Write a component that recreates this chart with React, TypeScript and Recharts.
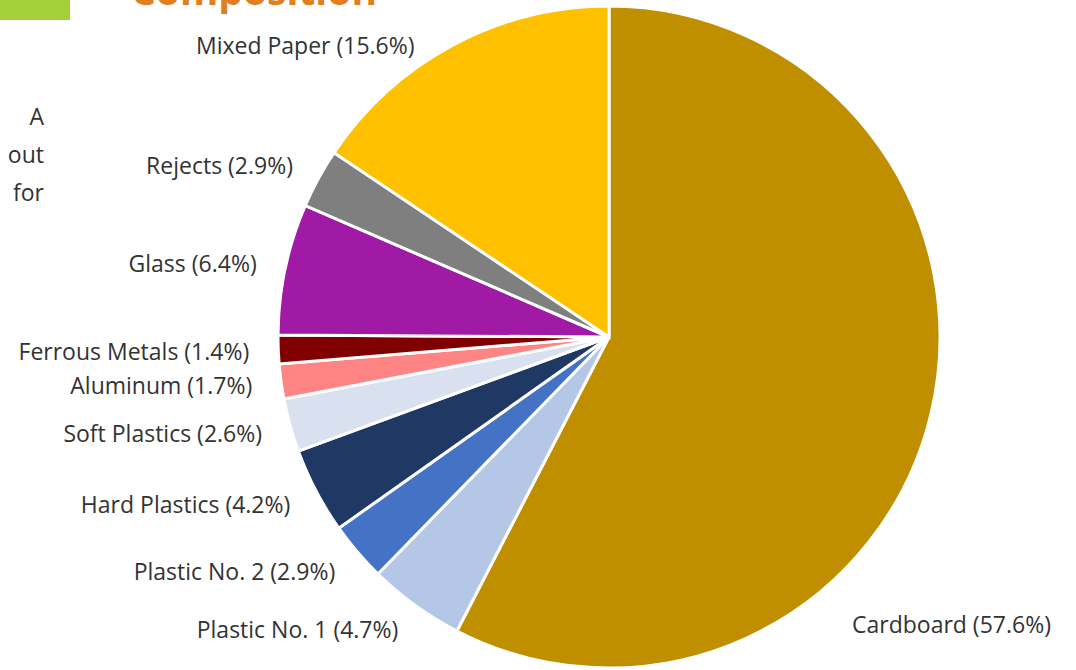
import React from 'react'
import { PieChart, Pie, Cell } from 'recharts'

const categories = [
  'Cardboard',
  'Plastic No. 1',
  'Plastic No. 2',
  'Hard Plastics',
  'Soft Plastics',
  'Aluminum',
  'Ferrous Metals',
  'Glass',
  'Rejects',
  'Mixed Paper',
]
const shares = [57.6, 4.7, 2.9, 4.2, 2.6, 1.7, 1.4, 6.4, 2.9, 15.6]
const colors = [
  '#BF8F00',
  '#B4C7E7',
  '#4472C4',
  '#1F3864',
  '#D9E1F0',
  '#FF8585',
  '#800000',
  '#A01AA6',
  '#7F7F7F',
  '#FFC000',
]

const data = categories.map((name, i) => ({ name, value: shares[i] }))

const FONT = '"Open Sans", "Liberation Sans", sans-serif'
const CX = 609
const CY = 337
const RADIUS = 331
const RAD = Math.PI / 180

// labels sit just outside the rim, cardboard goes bottom right
const renderLabel = (props: any) => {
  const { cx, cy, midAngle, name, value } = props
  const text = `${name} (${value}%)`
  if (name === 'Cardboard') {
    return (
      <text x={cx + 243} y={cy + 287} textAnchor="start" dominantBaseline="central"
        style={{ fontSize: 23, fill: '#333', fontFamily: FONT }}>
        {text}
      </text>
    )
  }
  const r = RADIUS + 29
  let x = cx + r * Math.cos(-midAngle * RAD)
  let y = cy + r * Math.sin(-midAngle * RAD)
  if (y < 50) {
    // keep the top label clear of the title
    x -= 25
    y = 45
  }
  return (
    <text x={x} y={y} textAnchor="end" dominantBaseline="central"
      style={{ fontSize: 23, fill: '#333', fontFamily: FONT }}>
      {text}
    </text>
  )
}

export default function App() {
  return (
    <div style={{ position: 'absolute', left: 0, top: 0, width: 1076, height: 670, background: '#fff', overflow: 'hidden' }}>
      <div style={{ position: 'absolute', left: 0, top: 0, width: 70, height: 20, background: '#A5CF38' }} />
      <div style={{ position: 'absolute', left: 131, top: -30, fontFamily: FONT, fontWeight: 700, fontSize: 39, color: '#E07F22', lineHeight: '40px', whiteSpace: 'nowrap' }}>
        Composition
      </div>
      <div style={{ position: 'absolute', left: 0, top: 97, width: 44, textAlign: 'right', fontFamily: FONT, fontSize: 23, color: '#333', lineHeight: '38px' }}>
        <div>A</div>
        <div>out</div>
        <div>for</div>
      </div>
      <div style={{ position: 'absolute', left: 0, top: 0 }}>
        <PieChart width={1076} height={670} margin={{ top: 0, right: 0, bottom: 0, left: 0 }}>
          <Pie
            data={data}
            dataKey="value"
            nameKey="name"
            cx={CX}
            cy={CY}
            outerRadius={RADIUS}
            startAngle={90}
            endAngle={-270}
            stroke="#fff"
            strokeWidth={3}
            label={renderLabel}
            labelLine={false}
            isAnimationActive={false}
          >
            {data.map((d, i) => (
              <Cell key={d.name} fill={colors[i]} />
            ))}
          </Pie>
        </PieChart>
      </div>
    </div>
  )
}
